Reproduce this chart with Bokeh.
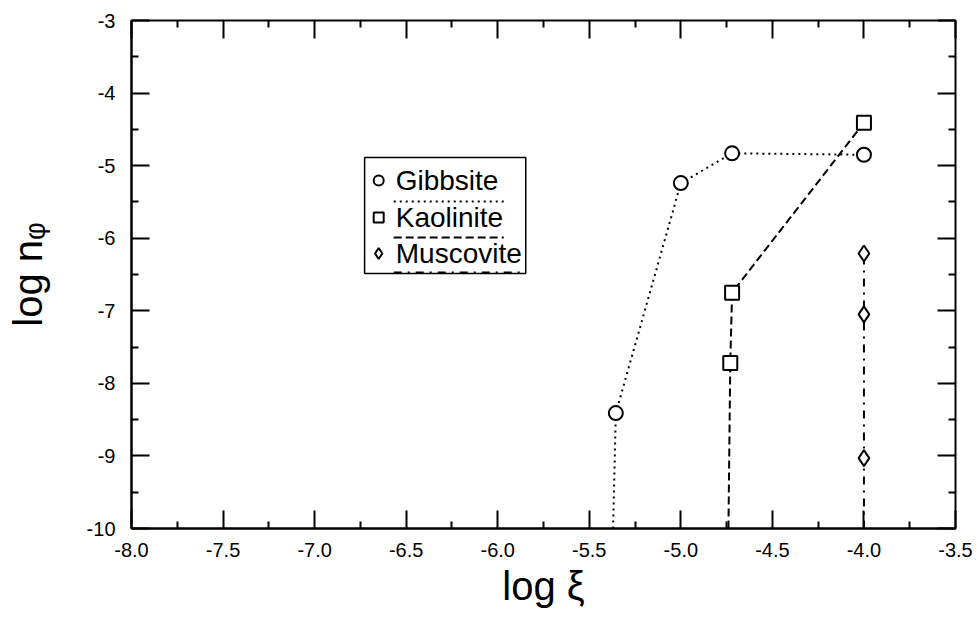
from bokeh.plotting import figure
from bokeh.models import (LinearAxis, FixedTicker, PrintfTickFormatter)
from bokeh.core.properties import value
from bokeh.embed import file_html
from bokeh.resources import INLINE

# ---- data ----
gibbsite_line_x = [-5.37, -5.355, -5.0, -4.72, -4.0]
gibbsite_line_y = [-10.0, -8.41, -5.24, -4.83, -4.85]
gibbsite_pts_x = [-5.355, -5.0, -4.72, -4.0]
gibbsite_pts_y = [-8.41, -5.24, -4.83, -4.85]

kaolinite_line_x = [-4.74, -4.73, -4.72, -4.0]
kaolinite_line_y = [-10.0, -7.72, -6.75, -4.41]
kaolinite_pts_x = [-4.73, -4.72, -4.0]
kaolinite_pts_y = [-7.72, -6.75, -4.41]

muscovite_line_x = [-4.0, -4.0, -4.0, -4.0]
muscovite_line_y = [-10.0, -9.03, -7.05, -6.21]
muscovite_pts_x = [-4.0, -4.0, -4.0]
muscovite_pts_y = [-9.03, -7.05, -6.21]

series_names = ["Gibbsite", "Kaolinite", "Muscovite"]

# tick positions
x_major_ticks = [-8.0, -7.5, -7.0, -6.5, -6.0, -5.5, -5.0, -4.5, -4.0, -3.5]
x_minor_ticks = [-7.75, -7.25, -6.75, -6.25, -5.75, -5.25, -4.75, -4.25, -3.75]
y_major_ticks = [-10, -9, -8, -7, -6, -5, -4, -3]
y_minor_ticks = [-9.5, -8.5, -7.5, -6.5, -5.5, -4.5, -3.5]

FONT = "Liberation Sans"

p = figure(width=977, height=617, x_range=(-8.0, -3.5), y_range=(-10.0, -3.0),
           output_backend="svg", toolbar_location=None,
           min_border_left=131, min_border_right=22, min_border_top=20,
           min_border_bottom=89)
p.xgrid.visible = False
p.ygrid.visible = False
p.outline_line_color = "black"
p.outline_line_width = 2
p.background_fill_color = "white"
p.border_fill_color = "white"

def style_axis(ax):
    ax.axis_line_color = "black"
    ax.axis_line_width = 2
    ax.major_tick_in = 18
    ax.major_tick_out = 0
    ax.minor_tick_in = 7
    ax.minor_tick_out = 0
    ax.major_tick_line_width = 2
    ax.minor_tick_line_width = 2
    ax.major_tick_line_color = "black"
    ax.minor_tick_line_color = "black"
    ax.major_label_text_font = FONT
    ax.major_label_text_color = "black"
    ax.major_label_text_font_size = "20px"

xa = p.xaxis[0]
ya = p.yaxis[0]
style_axis(xa)
style_axis(ya)
xa.ticker = FixedTicker(ticks=x_major_ticks, minor_ticks=x_minor_ticks)
ya.ticker = FixedTicker(ticks=y_major_ticks, minor_ticks=y_minor_ticks)
xa.formatter = PrintfTickFormatter(format="%.1f")
ya.formatter = PrintfTickFormatter(format="%d")
xa.major_label_standoff = 14
ya.major_label_standoff = 16

xa.axis_label = "log ξ"
ya.axis_label = "log nᵩ"
for ax in (xa, ya):
    ax.axis_label_text_font = FONT
    ax.axis_label_text_font_size = "40px"
    ax.axis_label_text_font_style = "normal"
    ax.axis_label_text_color = "black"
xa.axis_label_standoff = 4
ya.axis_label_standoff = 34

# mirrored tick marks on top and right (no labels: only "minor" ticks used)
def tick_only_axis(minor_positions, length):
    ax = LinearAxis(ticker=FixedTicker(ticks=[], minor_ticks=minor_positions))
    ax.axis_line_color = None
    ax.major_tick_line_color = None
    ax.minor_tick_in = length
    ax.minor_tick_out = 0
    ax.minor_tick_line_width = 2
    ax.minor_tick_line_color = "black"
    ax.major_label_standoff = 0
    ax.axis_label_standoff = 0
    return ax

p.add_layout(tick_only_axis(x_major_ticks, 18), "above")
p.add_layout(tick_only_axis(x_minor_ticks, 7), "above")
p.add_layout(tick_only_axis(y_major_ticks, 18), "right")
p.add_layout(tick_only_axis(y_minor_ticks, 7), "right")

# ---- series ----
p.line(gibbsite_line_x, gibbsite_line_y, line_color="black", line_width=2,
       line_dash="2 4")
p.line(kaolinite_line_x, kaolinite_line_y, line_color="black", line_width=2,
       line_dash="8 4")
p.line(muscovite_line_x, muscovite_line_y, line_color="black", line_width=2,
       line_dash="8 6 2 6")

p.scatter(gibbsite_pts_x, gibbsite_pts_y, marker="circle", size=14,
          fill_color="white", line_color="black", line_width=2)
p.scatter(kaolinite_pts_x, kaolinite_pts_y, marker="square", size=14,
          fill_color="white", line_color="black", line_width=2)
p.scatter(muscovite_pts_x, muscovite_pts_y, marker="diamond", size=16,
          fill_color="white", line_color="black", line_width=2)

# ---- legend (drawn manually to mimic marker/label with line sample below) ----
p.quad(left=[-6.727], right=[-5.847], top=[-4.888], bottom=[-6.486],
       fill_color="white", line_color="black", line_width=1.5)

leg_marker_x = -6.650
leg_text_x = -6.557
leg_text_y = [-5.205, -5.715, -6.211]
leg_line_y = [-5.494, -5.990, -6.472]
leg_line_x1 = [-6.568, -6.568, -6.568]
leg_line_x2 = [-5.967, -5.967, -5.874]
leg_markers = ["circle", "square", "diamond"]
leg_sizes = [10, 10, 11]
leg_dashes = ["2 4", "8 4", "8 6 2 6"]

for i, name in enumerate(series_names):
    p.scatter([leg_marker_x], [leg_text_y[i]], marker=leg_markers[i],
              size=leg_sizes[i], fill_color="white", line_color="black",
              line_width=2)
    p.text([leg_text_x], [leg_text_y[i]], text=[name], text_font=value(FONT),
           text_font_size="28px", text_baseline="middle", text_align="left",
           text_color="black")
    p.line([leg_line_x1[i], leg_line_x2[i]], [leg_line_y[i], leg_line_y[i]],
           line_color="black", line_width=2, line_dash=leg_dashes[i])

open("out.html", "w").write(file_html(p, INLINE))
